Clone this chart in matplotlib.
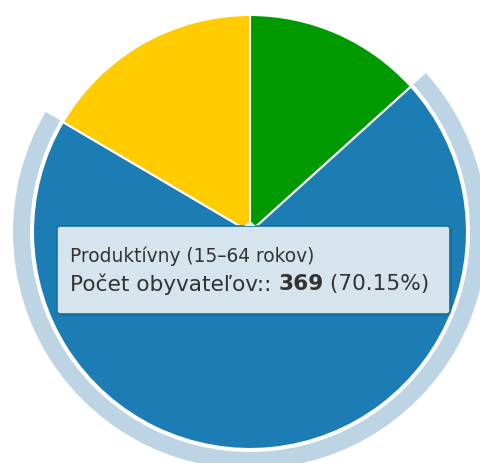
import numpy as np
import matplotlib.pyplot as plt
from matplotlib.patches import Wedge, FancyBboxPatch, Polygon

# Údaje
kategorie = ["Predproduktívny (0–14 rokov)", "Produktívny (15–64 rokov)", "Poproduktívny (65+ rokov)"]
hodnoty = [70, 369, 87]
farby = ["#009900", "#1b7db3", "#ffcc00"]
vybrany = 1  # segment pod kurzorom

W, H = 481, 463
fig = plt.figure(figsize=(W / 100, H / 100), dpi=100)
ax = fig.add_axes([0, 0, 1, 1])

stred = (250, H - 232)
polomer = 217

wedges, _ = ax.pie(hodnoty, colors=farby, startangle=90, counterclock=False,
                   center=stred, radius=polomer, frame=True,
                   wedgeprops=dict(edgecolor="white", linewidth=1.5))
ax.set_xlim(0, W)
ax.set_ylim(0, H)
ax.set_aspect("equal")
ax.axis("off")

# halo okolo vybraného segmentu
w = wedges[vybrany]
halo = Wedge(stred, polomer + 20, w.theta1, w.theta2, width=17,
             facecolor="#bcd4e3", edgecolor="none", zorder=0)
ax.add_patch(halo)

# tooltip
x0, y0, x1, y1 = 57, H - 314, 450, H - 226
tien = FancyBboxPatch((x0 + 2, y0 - 2), x1 - x0, y1 - y0, boxstyle="round,pad=0,rounding_size=3",
                      facecolor="#000000", alpha=0.12, edgecolor="none", zorder=4)
box = FancyBboxPatch((x0, y0), x1 - x0, y1 - y0, boxstyle="round,pad=0,rounding_size=3",
                     facecolor="#d6e4ee", edgecolor="#16709f", linewidth=1.2, zorder=5)
ax.add_patch(tien)
ax.add_patch(box)
ax.add_patch(Polygon([(244, y1), (250, y1 + 5), (256, y1)], closed=True,
                     facecolor="#e4edf3", edgecolor="none", zorder=6))

farba_textu = "#333333"
ax.text(70, H - 256, kategorie[vybrany], fontsize=13.4, color=farba_textu,
        va="center", ha="left", zorder=7)

podiel = hodnoty[vybrany] / sum(hodnoty) * 100
casti = [("Počet obyvateľov:: ", "normal"), (str(hodnoty[vybrany]), "bold"),
         (" (%.2f%%)" % podiel, "normal")]
renderer = fig.canvas.get_renderer()
x = 70
for s, vaha in casti:
    t = ax.text(x, H - 284, s, fontsize=15.6, fontweight=vaha, color=farba_textu,
                va="center", ha="left", zorder=7)
    bb = t.get_window_extent(renderer=renderer)
    x += bb.width

fig.savefig("out.png", dpi=100)
